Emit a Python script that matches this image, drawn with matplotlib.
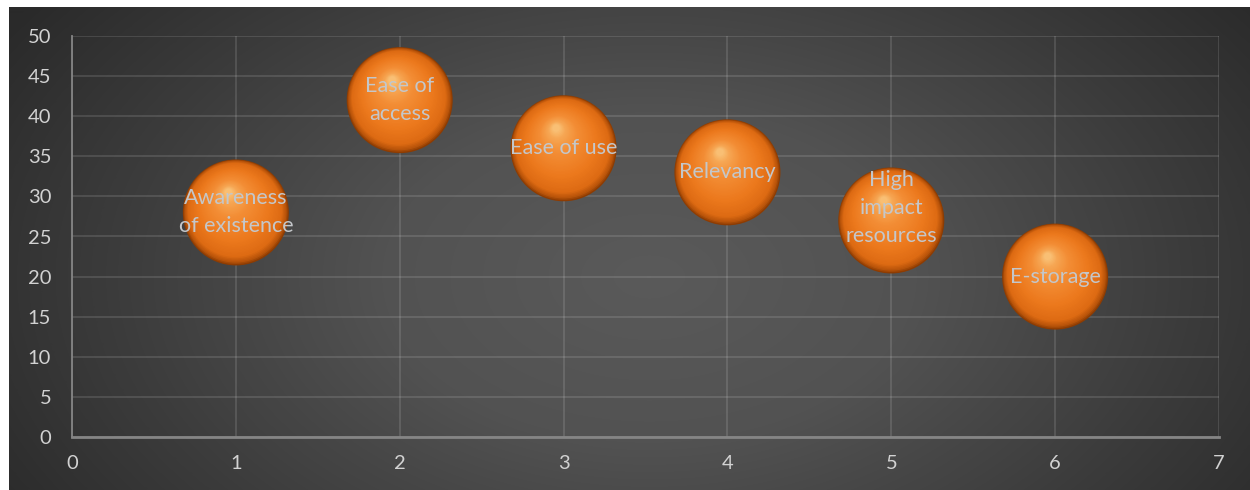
import numpy as np
import matplotlib
matplotlib.use("Agg")
import matplotlib.pyplot as plt
from matplotlib.colors import LinearSegmentedColormap
from matplotlib.transforms import ScaledTranslation

# ── Data ──────────────────────────────────────────────
x_vals = [1, 2, 3, 4, 5, 6]
y_vals = [28, 42, 36, 33, 27, 20]
labels = ["Awareness\nof existence", "Ease of\naccess", "Ease of use",
          "Relevancy", "High\nimpact\nresources", "E-storage"]
x_ticks = [0, 1, 2, 3, 4, 5, 6, 7]
y_ticks = [0, 5, 10, 15, 20, 25, 30, 35, 40, 45, 50]

# ── Style ─────────────────────────────────────────────
FONT = "Lato"
C_TICK = "#d2d2d2"
C_LABEL = "#c4c7ca"
C_AXIS = "#858585"
R_PX = 53          # sphere radius in pixels
DPI = 100

fig = plt.figure(figsize=(12.5, 4.9), dpi=DPI)
fig.patch.set_facecolor("white")

# dark radial gradient background
bg = fig.add_axes([9 / 1250, 0, 1 - 9 / 1250, 483 / 490])
bg.axis("off")
h, w = 483, 1241
yy, xx = np.mgrid[0:h, 0:w]
d = np.sqrt(((xx - 640) / 760.0) ** 2 + ((yy - 270) / 470.0) ** 2)
bg_cmap = LinearSegmentedColormap.from_list(
    "bg", [(0.0, "#5a5a5a"), (0.35, "#525252"), (0.7, "#3c3c3c"),
           (1.0, "#2a2a2a")])
bg.imshow(np.clip(d, 0, 1), cmap=bg_cmap, vmin=0, vmax=1,
          aspect="auto", interpolation="bilinear")

ax = fig.add_axes([72 / 1250, 53 / 490, (1219 - 72) / 1250, (437 - 36) / 490])
ax.set_facecolor("none")
ax.set_xlim(0, 7)
ax.set_ylim(0, 50)
ax.set_xticks(x_ticks)
ax.set_yticks(y_ticks)
ax.grid(True, color="white", alpha=0.14, linewidth=1.2, zorder=0)
ax.set_axisbelow(True)
for side in ["top", "right"]:
    ax.spines[side].set_visible(False)
ax.spines["left"].set_color(C_AXIS)
ax.spines["left"].set_linewidth(1.3)
ax.spines["bottom"].set_color(C_AXIS)
ax.spines["bottom"].set_linewidth(2)
ax.tick_params(length=0, labelsize=14.5, labelcolor=C_TICK)
for t in ax.get_xticklabels() + ax.get_yticklabels():
    t.set_fontfamily(FONT)
ax.tick_params(axis="x", pad=13)
ax.tick_params(axis="y", pad=15)

# ── Shaded spheres (layered scatter) ──────────────────
sphere_cmap = LinearSegmentedColormap.from_list(
    "sphere", [(0.0, "#8e3c02"), (0.04, "#b9540a"), (0.12, "#de6b13"),
               (0.35, "#ec791d"), (0.7, "#f38e36"), (0.9, "#f6a754"),
               (1.0, "#f9bf74")])
n_layers = 50
for k in range(n_layers):
    t = k / (n_layers - 1)
    r = R_PX * (1 - 0.93 * t)
    dx = -0.14 * R_PX * t
    dy = 0.38 * R_PX * t
    tr = ax.transData + ScaledTranslation(dx / DPI, dy / DPI, fig.dpi_scale_trans)
    size = (2 * r * 72 / DPI) ** 2
    ax.scatter(x_vals, y_vals, s=size, color=sphere_cmap(t),
               edgecolors="none", transform=tr, zorder=3 + k * 0.01,
               clip_on=False)

for xv, yv, lab in zip(x_vals, y_vals, labels):
    n_lines = lab.count("\n") + 1
    lift = max(0, n_lines - 2) * 9
    ax.annotate(lab, (xv, yv), xytext=(0, lift), textcoords="offset points",
                ha="center", va="center", color=C_LABEL,
                fontsize=15.5, fontfamily=FONT, linespacing=1.5, zorder=10)

fig.savefig("out.png", dpi=DPI, facecolor=fig.get_facecolor())
